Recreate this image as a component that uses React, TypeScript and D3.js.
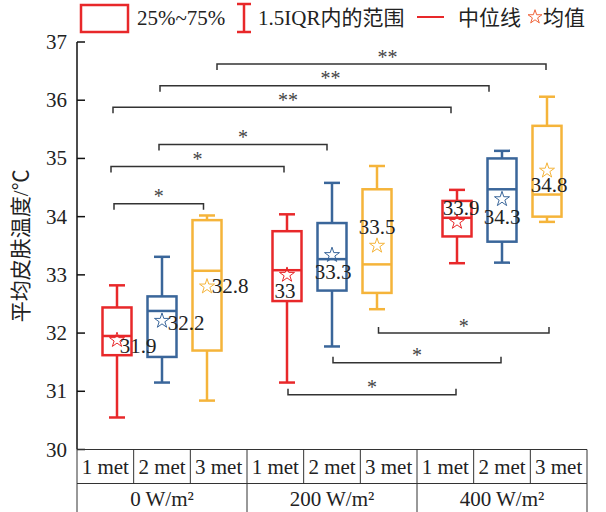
import * as React from "react"
import * as d3 from "d3"

const groups = ["0 W/m²", "200 W/m²", "400 W/m²"]
const mets = ["1 met", "2 met", "3 met"]
const metColors = ["#E8282A", "#3A669A", "#F5B43A"]

// box stats, ordered group by group, met inside
const whiskerLow = [30.55, 31.15, 30.84, 31.15, 31.77, 32.41, 33.2, 33.21, 33.91]
const q1 = [31.62, 31.59, 31.7, 32.55, 32.73, 32.69, 33.66, 33.57, 34.0]
const median = [31.95, 32.38, 33.07, 33.08, 33.27, 33.18, 33.98, 34.47, 34.38]
const q3 = [32.44, 32.63, 33.94, 33.75, 33.89, 34.47, 34.27, 35.0, 35.56]
const whiskerHigh = [32.82, 33.31, 34.02, 34.04, 34.58, 34.87, 34.46, 35.13, 36.06]
const means = [31.88, 32.21, 32.8, 33.0, 33.34, 33.5, 33.91, 34.3, 34.79]
const meanLabels = ["31.9", "32.2", "32.8", "33", "33.3", "33.5", "33.9", "34.3", "34.8"]

const yTicks = [30, 31, 32, 33, 34, 35, 36, 37]

// significance brackets: from box, to box, level (°C), mark
const sigFrom = [0, 0, 1, 0, 1, 2, 5, 4, 3]
const sigTo = [2, 3, 4, 6, 7, 8, 8, 7, 6]
const sigLevel = [34.22, 34.86, 35.24, 35.88, 36.25, 36.62, 32.0, 31.49, 30.94]
const sigMark = ["*", "*", "*", "**", "**", "**", "*", "*", "*"]

// hand placement tweaks
const sigNudge = [
  [-3, -3.5], [-6, -3], [-3, -5], [-4, -6], [-2, -13], [10, -1],
  [1.5, 2], [1, -1], [1, -1],
]
const labelNudge = [
  [21, 6], [24, 2], [23, -1], [-2, 16], [1, 17], [0, -19], [4, -14], [0, 18], [2, 14],
]

const W = 606
const H = 512
const serif = "'Liberation Serif', 'Times New Roman', serif"
const cjk = "'Liberation Serif', 'Noto Sans CJK SC', serif"
const ink = "#222"
const fs = 21

export default function App() {
  const y = d3.scaleLinear().domain([30, 37]).range([449.5, 42])
  const gx = d3.scaleBand().domain(groups).range([77, 587])
  const mx = d3.scalePoint().domain(mets).range([-45, 45])
  const boxX = (i: number) =>
    (gx(groups[Math.floor(i / 3)]) as number) + gx.bandwidth() / 2 + (mx(mets[i % 3]) as number)
  const colX = d3.scaleBand().domain(mets).range([0, gx.bandwidth()])

  const star = d3.symbol().type(d3.symbolStar).size(70)()
  const legendStar = d3.symbol().type(d3.symbolStar).size(60)()

  const boxW = 29
  const capW = 16
  const rowTop = y(30)
  const row1 = rowTop + 34
  const row2 = row1 + 35

  return (
    <svg
      width={W}
      height={H}
      style={{ position: "absolute", left: 0, top: 0, background: "#fff" }}
      fontFamily={serif}
    >
      {/* legend */}
      <g fill={ink} fontSize={fs}>
        <rect x={81} y={5} width={47} height={27} fill="none" stroke={metColors[0]} strokeWidth={2.5} />
        <text x={137} y={18} dominantBaseline="central">25%~75%</text>
        <g stroke={metColors[0]} strokeWidth={2.5}>
          <line x1={244} x2={244} y1={4} y2={32} />
          <line x1={237} x2={251} y1={4} y2={4} />
          <line x1={237} x2={251} y1={32} y2={32} />
        </g>
        <text x={258} y={18} dominantBaseline="central" fontFamily={cjk}>1.5IQR内的范围</text>
        <line x1={417} x2={444} y1={17} y2={17} stroke={metColors[0]} strokeWidth={2} />
        <text x={458} y={18} dominantBaseline="central" fontFamily={cjk}>中位线</text>
        <path d={legendStar} transform="translate(535,17)" fill="none" stroke="#F0643A" strokeWidth={1} />
        <text x={543} y={18} dominantBaseline="central" fontFamily={cjk}>均值</text>
      </g>

      {/* y axis */}
      <g stroke="#111" strokeWidth={1.5}>
        <line x1={77} x2={77} y1={y(37)} y2={y(30)} />
        {yTicks.map((t) => (
          <line key={t} x1={77} x2={85} y1={y(t)} y2={y(t)} />
        ))}
      </g>
      {yTicks.map((t) => (
        <text key={t} x={67} y={y(t)} textAnchor="end" dominantBaseline="central" fontSize={fs} fill={ink}>
          {t}
        </text>
      ))}
      <text
        transform={`translate(21,${(y(30) + y(37)) / 2}) rotate(-90)`}
        textAnchor="middle"
        dominantBaseline="central"
        fontSize={fs}
        fontFamily={cjk}
        fill={ink}
      >
        平均皮肤温度/℃
      </text>

      {/* boxes */}
      {q1.map((_, i) => {
        const cx = boxX(i)
        const c = metColors[i % 3]
        return (
          <g key={i} stroke={c} strokeWidth={2.5} fill="none">
            <line x1={cx} x2={cx} y1={y(whiskerLow[i])} y2={y(q1[i])} />
            <line x1={cx} x2={cx} y1={y(q3[i])} y2={y(whiskerHigh[i])} />
            <line x1={cx - capW / 2} x2={cx + capW / 2} y1={y(whiskerLow[i])} y2={y(whiskerLow[i])} />
            <line x1={cx - capW / 2} x2={cx + capW / 2} y1={y(whiskerHigh[i])} y2={y(whiskerHigh[i])} />
            <rect x={cx - boxW / 2} y={y(q3[i])} width={boxW} height={y(q1[i]) - y(q3[i])} fill="#fff" />
            <line x1={cx - boxW / 2} x2={cx + boxW / 2} y1={y(median[i])} y2={y(median[i])} />
            <path d={star} transform={`translate(${cx},${y(means[i])})`} strokeWidth={1} />
          </g>
        )
      })}
      {meanLabels.map((s, i) => (
        <text
          key={i}
          x={boxX(i) + labelNudge[i][0]}
          y={y(means[i]) + labelNudge[i][1]}
          textAnchor="middle"
          dominantBaseline="central"
          fontSize={fs}
          fill={ink}
        >
          {s}
        </text>
      ))}

      {/* significance */}
      {sigFrom.map((a, i) => {
        const x1 = boxX(a) + sigNudge[i][0]
        const x2 = boxX(sigTo[i]) + sigNudge[i][1]
        const ly = y(sigLevel[i])
        const dir = i < 6 ? 6 : -6
        return (
          <g key={i}>
            <path
              d={`M${x1},${ly + dir}V${ly}H${x2}V${ly + dir}`}
              fill="none"
              stroke="#333"
              strokeWidth={1.5}
            />
            <text x={(x1 + x2) / 2 + (sigMark[i] === "**" ? 6 : 0)} y={ly - 0.5} textAnchor="middle" fontSize={20} fill="#444">
              {sigMark[i]}
            </text>
          </g>
        )
      })}

      {/* category table */}
      <g stroke="#333" strokeWidth={1} fill="none">
        <line x1={77} x2={587} y1={rowTop} y2={rowTop} />
        <line x1={77} x2={587} y1={row1} y2={row1} />
        <line x1={77} x2={587} y1={row2} y2={row2} />
        {groups.map((g) => {
          const gx0 = gx(g) as number
          return (
            <g key={g}>
              <line x1={gx0} x2={gx0} y1={rowTop} y2={row2} />
              {mets.slice(1).map((m) => (
                <line key={m} x1={gx0 + (colX(m) as number)} x2={gx0 + (colX(m) as number)} y1={rowTop} y2={row1} />
              ))}
            </g>
          )
        })}
        <line x1={587} x2={587} y1={rowTop} y2={row2} />
      </g>
      {groups.map((g) => {
        const gx0 = gx(g) as number
        return (
          <g key={g} fontSize={fs} fill={ink} textAnchor="middle">
            {mets.map((m) => (
              <text key={m} x={gx0 + (colX(m) as number) + colX.bandwidth() / 2} y={(rowTop + row1) / 2} dominantBaseline="central">
                {m}
              </text>
            ))}
            <text x={gx0 + gx.bandwidth() / 2} y={(row1 + row2) / 2 - 2} dominantBaseline="central">
              {g}
            </text>
          </g>
        )
      })}
    </svg>
  )
}
